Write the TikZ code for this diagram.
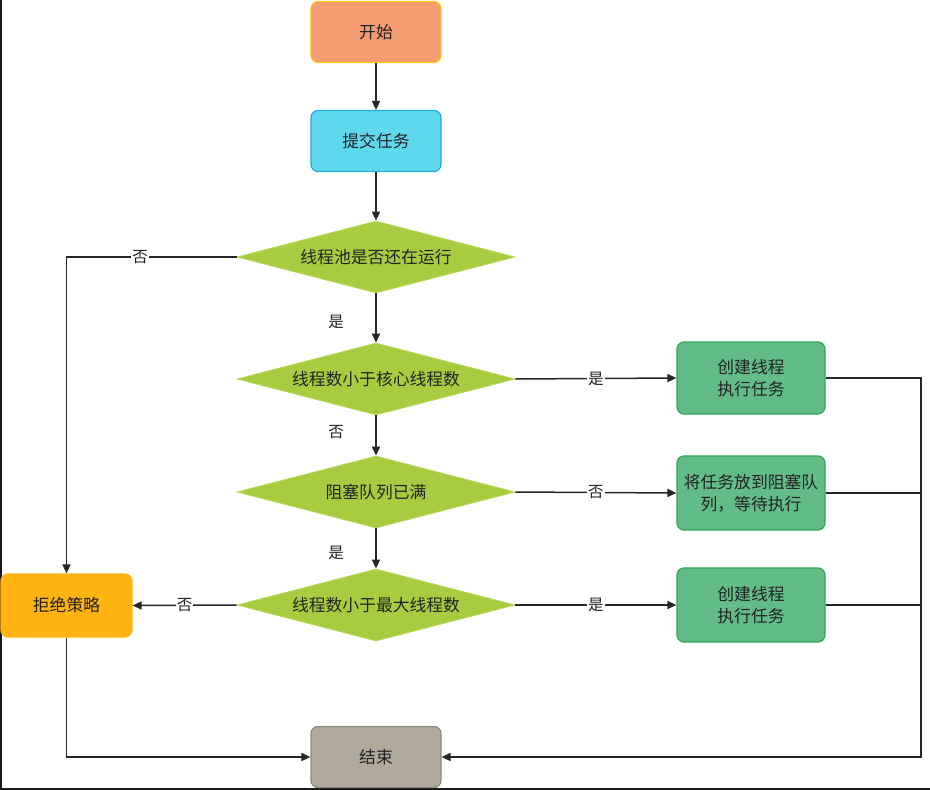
\documentclass[tikz,border=0pt]{standalone}
\usepackage{fontspec}
\setmainfont{Noto Sans CJK SC}
\usetikzlibrary{shapes.geometric,arrows.meta}
\definecolor{startfill}{HTML}{F59B72}
\definecolor{startdraw}{HTML}{FFC21A}
\definecolor{taskfill}{HTML}{5FD8EE}
\definecolor{taskdraw}{HTML}{22A9E6}
\definecolor{decfill}{HTML}{A8CC3F}
\definecolor{decdraw}{HTML}{B9D85A}
\definecolor{greenfill}{HTML}{62BC86}
\definecolor{greendraw}{HTML}{2EA85A}
\definecolor{rejfill}{HTML}{FFB414}
\definecolor{rejdraw}{HTML}{FFB414}
\definecolor{endfill}{HTML}{B1AA9C}
\definecolor{enddraw}{HTML}{8C877E}
\definecolor{txt}{HTML}{222222}
\tikzset{
  every node/.style={font=\fontsize{16.8}{22}\selectfont, text=txt},
  box/.style={rectangle, rounded corners=7pt, line width=1.2pt, minimum width=130pt, minimum height=61pt, align=center, inner sep=0pt},
  gbox/.style={box, fill=greenfill, draw=greendraw, minimum width=148pt, minimum height=72pt},
  dec/.style={diamond, aspect=3.86, minimum width=278pt, minimum height=72pt, inner sep=0pt, fill=decfill, draw=decdraw, line width=0.8pt},
  conn/.style={line width=1.5pt, draw=black!85},
  arr/.style={conn, -{Triangle[width=8pt,length=9pt]}},
  lab/.style={fill=white, inner sep=1pt, font=\fontsize{15.5}{18}\selectfont}
}
\begin{document}
\begin{tikzpicture}[x=1pt, y=-1pt]
\useasboundingbox (0,0) rectangle (930,790);
\fill[white] (0,0) rectangle (930,790);
\draw[line width=1.6pt, black!90] (0.8,0) -- (0.8,789.2) -- (930,789.2);

\node[box, fill=startfill, draw=startdraw] (start) at (376,32) {开始};
\node[box, fill=taskfill, draw=taskdraw] (task) at (376,141) {提交任务};
\node[dec] (d1) at (376,257) {线程池是否还在运行};
\node[dec] (d2) at (376,379) {线程数小于核心线程数};
\node[dec] (d3) at (376,492) {阻塞队列已满};
\node[dec] (d4) at (376,605) {线程数小于最大线程数};
\node[gbox] (g1) at (751,378) {创建线程\\执行任务};
\node[gbox, minimum height=74pt] (g2) at (751,493) {将任务放到阻塞队\\列，等待执行};
\node[gbox, minimum height=74pt] (g3) at (751,605) {创建线程\\执行任务};
\node[box, fill=rejfill, draw=rejdraw, minimum width=131pt, minimum height=63pt] (rej) at (66.5,605.5) {拒绝策略};
\node[box, fill=endfill, draw=enddraw] (end) at (376,757) {结束};

\coordinate (rc) at (921,757);
\coordinate (lc) at (66.5,257);

\draw[arr] (start) -- (task);
\draw[arr] (task) -- (d1);
\draw[arr] (d1.west) -- (lc) -- (rej.north);
\node[lab] (l1) at (140,257) {否};
\draw[arr] (d1) -- (d2);
\node[lab] (l2) at (336,322) {是};
\draw[arr] (d2) -- (d3);
\node[lab] (l3) at (336,432) {否};
\draw[arr] (d3) -- (d4);
\node[lab] (l4) at (336,553) {是};
\draw[arr] (d2.east) -- (g1.west) node[midway, lab] {是};
\draw[arr] (d3.east) -- (g2.west) node[midway, lab] {否};
\draw[arr] (d4.east) -- (g3.west) node[midway, lab] {是};
\draw[arr] (d4.west) -- (rej.east) node[midway, lab] {否};
\draw[conn] (g1.east) -| (rc);
\draw[conn] (g2.east) -| (rc);
\draw[arr] (g3.east) -| (rc) -- (end.east);
\draw[arr] (rej.south) |- (end.west);
\end{tikzpicture}
\end{document}
